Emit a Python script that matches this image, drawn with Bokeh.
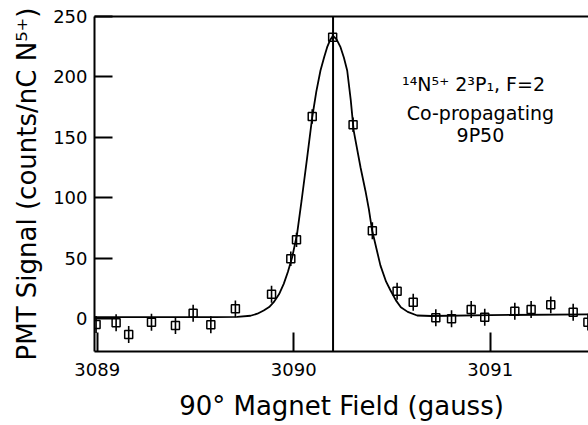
from bokeh.plotting import figure
from bokeh.models import ColumnDataSource, Span, FixedTicker, LinearAxis, Range1d
from bokeh.core.properties import value
from bokeh.embed import file_html
from bokeh.resources import INLINE

# ---- data ----
field = [3088.994, 3089.096, 3089.160, 3089.276, 3089.398, 3089.488, 3089.578,
         3089.703, 3089.887, 3089.985, 3090.014, 3090.094, 3090.198, 3090.302,
         3090.400, 3090.526, 3090.608, 3090.723, 3090.803, 3090.903, 3090.972,
         3091.125, 3091.208, 3091.308, 3091.422, 3091.497]
signal = [-5.0, -3.5, -13.2, -3.1, -5.8, 4.4, -5.2, 8.0, 20.1, 49.4, 65.1,
          167.2, 232.9, 160.3, 72.6, 22.6, 13.5, 0.6, -0.2, 7.5, 1.1, 6.0,
          7.5, 11.3, 5.2, -3.0]
error = [7, 7, 7, 7, 7, 7, 7, 7, 7, 6, 6, 6, 3, 6, 7, 7, 7, 7, 7, 7, 7, 7,
         7, 7, 7, 7]

fit_field = [3088.986, 3089.30, 3089.60, 3089.712, 3089.78, 3089.815, 3089.847,
             3089.875, 3089.898, 3089.925, 3089.949, 3089.97, 3089.992,
             3090.017, 3090.040, 3090.068, 3090.094, 3090.115, 3090.136,
             3090.155, 3090.170, 3090.185, 3090.200, 3090.218, 3090.238,
             3090.255, 3090.272, 3090.290, 3090.305, 3090.340, 3090.365,
             3090.382, 3090.399, 3090.441, 3090.470, 3090.492, 3090.520,
             3090.545, 3090.580, 3090.628, 3090.700, 3091.000, 3091.500]
fit_signal = [1.2, 1.2, 1.2, 1.3, 2.3, 4.0, 6.6, 9.5, 13.5, 20.0, 28.7, 38.5,
              50.7, 70.1, 97.7, 133.0, 166.6, 188.0, 205.3, 216.5, 224.6,
              230.5, 234.0, 231.0, 224.6, 216.0, 205.3, 181.0, 155.6, 125.0,
              105.6, 90.8, 72.8, 44.0, 30.5, 23.4, 15.0, 9.4, 5.5, 2.5, 2.1,
              2.8, 3.5]

resonance_center = 3090.20

x_ticks = [3089, 3090, 3091]
y_ticks = [0, 50, 100, 150, 200, 250]

note_lines = ["\u00b9\u2074N\u2075\u207a 2\u00b3P\u2081, F=2", "Co-propagating", "9P50"]
note_x = [3090.915, 3090.950, 3090.950]
note_y = [194.5, 170.3, 151.5]

x_title = "90\u00b0 Magnet Field (gauss)"
y_title = "PMT Signal (counts/nC N\u2075\u207a)"

FONT = "DejaVu Sans"

# ---- figure ----
p = figure(width=588, height=425, output_backend="svg", toolbar_location=None,
           x_range=Range1d(3088.986, 3091.50), y_range=Range1d(-27.3, 250),
           min_border_left=94, min_border_right=0, min_border_top=16,
           min_border_bottom=74)
p.outline_line_color = None
p.grid.visible = False
p.background_fill_color = "white"
p.border_fill_color = "white"

src = ColumnDataSource(dict(
    x=field, y=signal,
    lo=[s - e for s, e in zip(signal, error)],
    hi=[s + e for s, e in zip(signal, error)],
))

p.line(fit_field, fit_signal, line_color="black", line_width=1.8)
p.add_layout(Span(location=resonance_center, dimension="height",
                  line_color="black", line_width=2))
p.segment(x0="x", y0="lo", x1="x", y1="hi", source=src,
          line_color="black", line_width=1.6)
p.scatter("x", "y", source=src, marker="square", size=8, fill_color=None,
          line_color="black", line_width=1.5)

p.text(note_x, note_y, text=note_lines, text_font=value(FONT),
       text_font_size="19px", text_align="center",
       text_baseline="alphabetic", text_color="black")

xa = p.xaxis[0]
xa.ticker = FixedTicker(ticks=x_ticks)
xa.axis_label = x_title
ya = p.yaxis[0]
ya.ticker = FixedTicker(ticks=y_ticks)
ya.axis_label = y_title

for ax in (xa, ya):
    ax.major_tick_out = 0
    ax.minor_tick_line_color = None
    ax.axis_line_width = 2
    ax.axis_line_color = "black"
    ax.major_tick_line_width = 2
    ax.major_tick_line_color = "black"
    ax.major_label_text_font = FONT
    ax.major_label_text_font_size = "18px"
    ax.major_label_text_color = "black"
    ax.axis_label_text_font = FONT
    ax.axis_label_text_font_size = "26px"
    ax.axis_label_text_font_style = "normal"
    ax.axis_label_text_color = "black"

xa.major_tick_in = 19
xa.major_label_standoff = 11
xa.axis_label_standoff = 12
ya.major_tick_in = 18
ya.major_label_standoff = 7
ya.axis_label_standoff = 8

top = LinearAxis(ticker=FixedTicker(ticks=[]), axis_line_width=2,
                 axis_line_color="black", major_tick_line_color=None,
                 minor_tick_line_color=None, major_label_text_font_size="0px",
                 major_label_standoff=0)
p.add_layout(top, "above")

open("out.html", "w").write(file_html(p, INLINE))
